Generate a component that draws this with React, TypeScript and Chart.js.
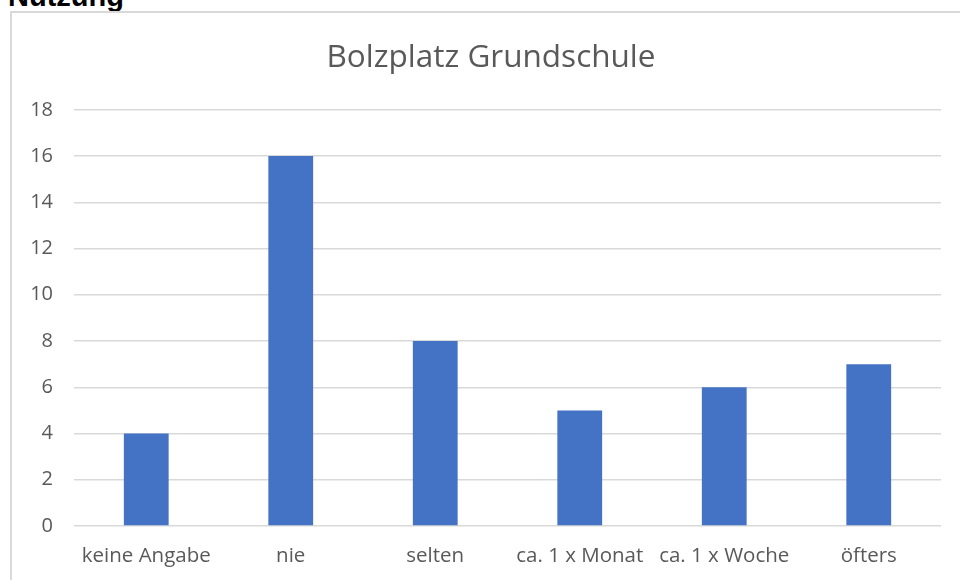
import React, { useEffect, useRef } from "react";
import { Chart, registerables } from "chart.js";

Chart.register(...registerables);

const categories = ["keine Angabe", "nie", "selten", "ca. 1 x Monat", "ca. 1 x Woche", "öfters"];
const values = [4, 16, 8, 5, 6, 7];
const yTicks = [0, 2, 4, 6, 8, 10, 12, 14, 16, 18];
const chartTitle = "Bolzplatz Grundschule";
const heading = "Nutzung";

const FONT = "'Open Sans', Lato, sans-serif";
const TEXT = "#595959";

export default function App() {
  const ref = useRef<HTMLCanvasElement | null>(null);

  useEffect(() => {
    if (!ref.current) return;
    const chart = new Chart(ref.current, {
      type: "bar",
      data: {
        labels: categories,
        datasets: [
          {
            data: values,
            backgroundColor: "#4472C4",
            borderWidth: 0,
            categoryPercentage: 1,
            barPercentage: 0.31,
            yAxisID: "y",
          },
        ],
      },
      options: {
        responsive: false,
        animation: false,
        layout: { padding: { left: 0, right: 0, top: 0, bottom: 0 } },
        plugins: {
          legend: { display: false },
          tooltip: { enabled: false },
          title: {
            display: true,
            text: chartTitle,
            color: TEXT,
            font: { family: FONT, size: 31.5, weight: "normal" },
            padding: { top: 26, bottom: 33 },
          },
        },
        scales: {
          x: {
            grid: { display: false, drawTicks: false },
            border: { display: false },
            ticks: {
              color: TEXT,
              font: { family: FONT, size: 20.5 },
              padding: 18,
              maxRotation: 0,
              autoSkip: false,
            },
            afterFit: (s: any) => {
              s.height = 57;
            },
          },
          y: {
            min: 0,
            max: 18,
            afterBuildTicks: (s: any) => {
              s.ticks = yTicks.map((v) => ({ value: v }));
            },
            grid: { color: "#d9d9d9", lineWidth: 1.5, drawTicks: false },
            border: { display: false },
            ticks: {
              color: TEXT,
              font: { family: FONT, size: 20 },
              padding: 21,
            },
            afterFit: (s: any) => {
              s.width = 62;
            },
          },
          yRight: {
            position: "right",
            min: 0,
            max: 18,
            grid: { display: false, drawTicks: false },
            border: { display: false },
            ticks: { display: false },
            afterFit: (s: any) => {
              s.width = 29;
            },
          },
        },
      },
    });
    return () => chart.destroy();
  }, []);

  return (
    <div style={{ position: "fixed", left: 0, top: 0, width: 960, height: 580, overflow: "hidden", background: "#fff" }}>
      <div
        style={{
          position: "absolute",
          left: 8,
          top: -18,
          fontFamily: "'Liberation Sans', Arial, sans-serif",
          fontWeight: "bold",
          fontSize: 29,
          lineHeight: "29px",
          color: "#000",
          whiteSpace: "nowrap",
        }}
      >
        {heading}
      </div>
      <div
        style={{
          position: "absolute",
          left: 10,
          top: 11,
          width: 980,
          height: 600,
          border: "2px solid #d9d9d9",
          boxSizing: "border-box",
        }}
      />
      <canvas
        ref={ref}
        width={958}
        height={570}
        style={{ position: "absolute", left: 12, top: 13, width: 958, height: 570 }}
      />
    </div>
  );
}
